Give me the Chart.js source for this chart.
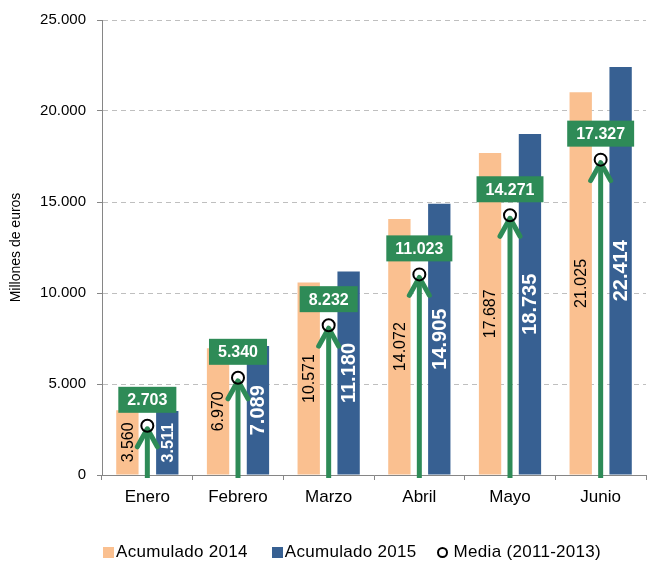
<!DOCTYPE html>
<html>
<head>
<meta charset="utf-8">
<script src="https://cdn.jsdelivr.net/npm/chart.js"></script>
<style>
  html, body { margin: 0; padding: 0; background: #fff; }
  #contenedor { position: relative; width: 654px; height: 561px; font-family: "Liberation Sans", Arial, sans-serif; }
  #leyenda { position: absolute; left: 103px; top: 542px; display: flex; align-items: center; font-size: 17px; letter-spacing: 0.3px; color: #000; white-space: nowrap; }
  #leyenda .item { display: flex; align-items: center; margin-right: 24px; }
  #leyenda .item:nth-child(2) { margin-right: 20px; }
  #leyenda .caja { width: 11px; height: 11px; margin-right: 2px; }
  #leyenda .circulo { width: 7px; height: 7px; border: 2px solid #000; border-radius: 50%; margin-right: 6px; }
</style>
</head>
<body>
<div id="contenedor">
  <canvas id="grafica"></canvas>
  <div id="leyenda"></div>
</div>
<script>
// datos
const meses = ['Enero', 'Febrero', 'Marzo', 'Abril', 'Mayo', 'Junio'];
const acumulado2014 = [3560, 6970, 10571, 14072, 17687, 21025];
const acumulado2015 = [3511, 7089, 11180, 14905, 18735, 22414];
const media = [2703, 5340, 8232, 11023, 14271, 17327];
const ticksY = [0, 5000, 10000, 15000, 20000, 25000];

const naranja = '#FAC090';
const azul = '#376092';
const verde = '#2E8B57';
const gris = '#868686';

function formato(n) {
    return String(n).replace(/\B(?=(\d{3})+(?!\d))/g, '.');
}

// etiquetas, flechas y cajas verdes
const decoracion = {
    id: 'decoracion',
    beforeDatasetDraw(chart, args) {
        if (args.index !== 2) return;
        const ctx = chart.ctx;
        const y0 = chart.scales.y.getPixelForValue(0);

        // valores dentro de las barras
        [0, 1].forEach(function (d) {
            const meta = chart.getDatasetMeta(d);
            meta.data.forEach(function (bar, i) {
                const valor = chart.data.datasets[d].data[i];
                const alto = bar.base - bar.y;
                ctx.save();
                ctx.translate(bar.x, (bar.y + bar.base) / 2);
                ctx.rotate(-Math.PI / 2);
                ctx.textAlign = 'center';
                ctx.textBaseline = 'middle';
                if (d === 0) {
                    ctx.fillStyle = '#000';
                    ctx.font = '16px "Liberation Sans", Arial, sans-serif';
                } else {
                    ctx.fillStyle = '#fff';
                    ctx.font = 'bold ' + (alto < 80 ? 16 : 20) + 'px "Liberation Sans", Arial, sans-serif';
                }
                ctx.fillText(formato(valor), 0, 1);
                ctx.restore();
            });
        });

        // flechas
        const metaMedia = chart.getDatasetMeta(2);
        metaMedia.data.forEach(function (pt, i) {
            const x = pt.x, y = pt.y;
            ctx.save();
            ctx.strokeStyle = verde;
            ctx.lineWidth = 5;
            ctx.lineCap = 'butt';
            ctx.beginPath();
            ctx.moveTo(x, y0 + 3);
            ctx.lineTo(x, y + 4);
            ctx.stroke();
            ctx.lineCap = 'round';
            ctx.lineJoin = 'round';
            ctx.beginPath();
            ctx.moveTo(x - 10, y + 21);
            ctx.lineTo(x, y + 3);
            ctx.lineTo(x + 10, y + 21);
            ctx.stroke();

            // caja con el valor de la media
            const texto = formato(media[i]);
            ctx.font = 'bold 16px "Liberation Sans", Arial, sans-serif';
            const ancho = ctx.measureText(texto).width + 18;
            const cy = y - 26;
            ctx.fillStyle = verde;
            ctx.fillRect(x - ancho / 2, cy - 13, ancho, 26);
            ctx.fillStyle = '#fff';
            ctx.textAlign = 'center';
            ctx.textBaseline = 'middle';
            ctx.fillText(texto, x, cy + 1);
            ctx.restore();
        });
    }
};

const ctx = document.getElementById('grafica').getContext('2d');
const myChart = new Chart(ctx, {
    type: 'bar',
    data: {
        labels: meses,
        datasets: [{
            label: 'Acumulado 2014',
            data: acumulado2014,
            backgroundColor: naranja,
            categoryPercentage: 0.88,
            barPercentage: 0.56
        }, {
            label: 'Acumulado 2015',
            data: acumulado2015,
            backgroundColor: azul,
            categoryPercentage: 0.88,
            barPercentage: 0.56
        }, {
            type: 'line',
            label: 'Media (2011-2013)',
            data: media,
            showLine: false,
            order: -1,
            pointStyle: 'circle',
            pointRadius: 6,
            pointHoverRadius: 6,
            pointBorderWidth: 2,
            pointBorderColor: '#000',
            pointBackgroundColor: 'rgba(255,255,255,0)',
            borderColor: '#000',
            backgroundColor: 'rgba(255,255,255,0)'
        }]
    },
    options: {
        responsive: true,
        maintainAspectRatio: false,
        animation: false,
        layout: { padding: { top: 19, right: 2, bottom: 46, left: 0 } },
        plugins: {
            legend: { display: false },
            tooltip: { enabled: false }
        },
        scales: {
            x: {
                afterFit(scale) { scale.height = 40; },
                grid: { drawOnChartArea: false, tickLength: 5, tickColor: gris, offset: true },
                border: { color: gris, width: 1 },
                ticks: { color: '#000', padding: 7, font: { size: 17, family: '"Liberation Sans", Arial, sans-serif' } }
            },
            y: {
                min: 0,
                max: 25000,
                afterFit(scale) { scale.width = 102; },
                afterBuildTicks(scale) { scale.ticks = ticksY.map(v => ({ value: v })); },
                grid: { color: '#BFBFBF', tickColor: gris, tickLength: 5 },
                border: { color: gris, width: 1, dash: [5, 4] },
                ticks: {
                    color: '#000',
                    padding: 11,
                    font: { size: 15, family: '"Liberation Sans", Arial, sans-serif' },
                    callback: v => formato(v)
                },
                title: {
                    display: true,
                    text: 'Millones de euros',
                    color: '#000',
                    padding: { top: 8, bottom: 0 },
                    font: { size: 14, family: '"Liberation Sans", Arial, sans-serif' }
                }
            }
        }
    },
    plugins: [decoracion]
});

// leyenda
const leyenda = document.getElementById('leyenda');
myChart.data.datasets.forEach(function (ds, i) {
    const item = document.createElement('div');
    item.className = 'item';
    const marca = document.createElement('span');
    if (ds.type === 'line') {
        marca.className = 'circulo';
    } else {
        marca.className = 'caja';
        marca.style.background = ds.backgroundColor;
    }
    item.appendChild(marca);
    const txt = document.createElement('span');
    txt.textContent = ds.label;
    item.appendChild(txt);
    leyenda.appendChild(item);
});
</script>
</body>
</html>
